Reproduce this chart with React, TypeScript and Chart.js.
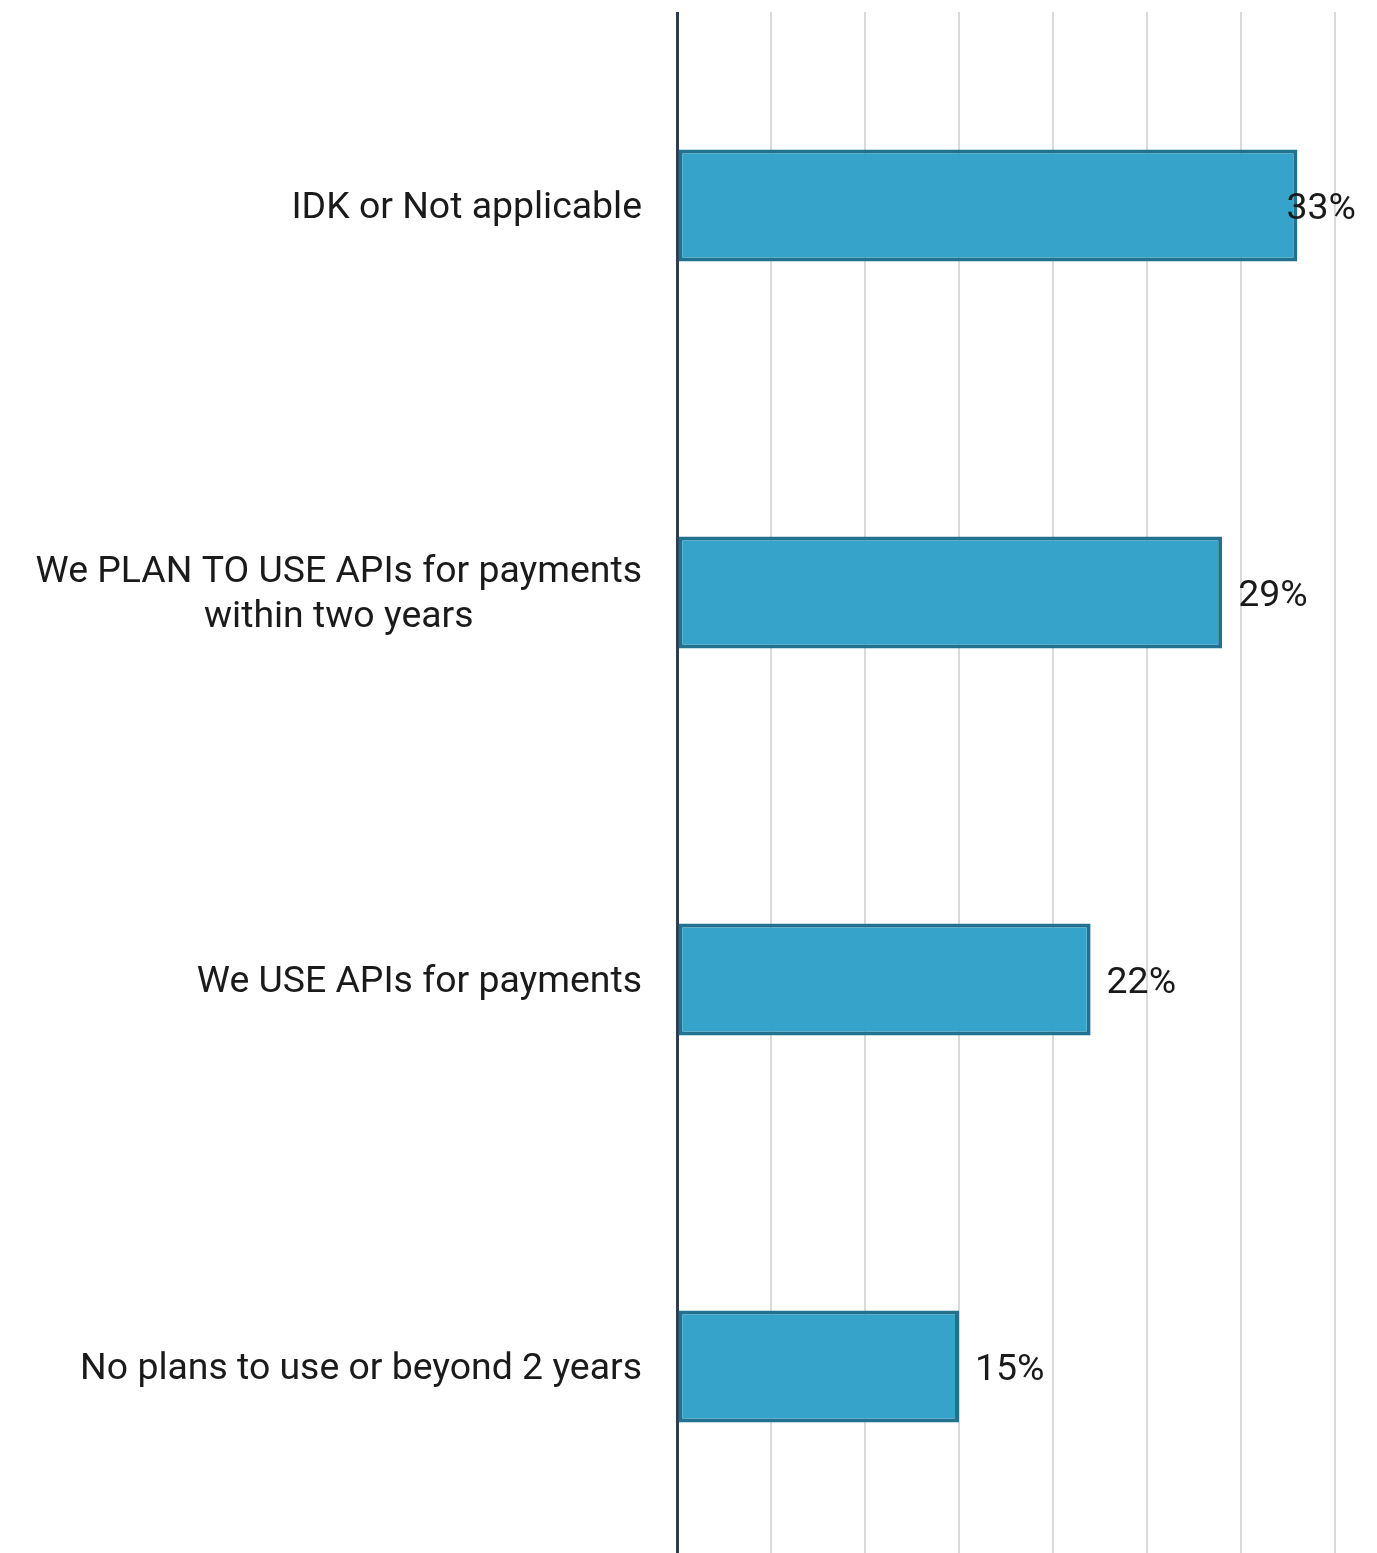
import React, { useEffect, useRef } from "react";
import { Chart, registerables } from "chart.js";

Chart.register(...registerables);

const categories: string[][] = [
  ["IDK or Not applicable"],
  ["We PLAN TO USE APIs for payments", "within two years"],
  ["We USE APIs for payments"],
  ["No plans to use or beyond 2 years"],
];
const values: number[] = [33, 29, 22, 15];
const valueLabels: string[] = ["33%", "29%", "22%", "15%"];
const xMax = 35;
const xStep = 5;

const FONT = "Roboto, 'Noto Sans', sans-serif";
const TEXT = "#1a1a1a";

const labelPlugin = {
  id: "customLabels",
  afterDatasetsDraw(chart: any) {
    const { ctx, chartArea } = chart;
    const yScale = chart.scales.y;
    const meta = chart.getDatasetMeta(0);
    ctx.save();
    ctx.font = `37.4px ${FONT}`;
    ctx.fillStyle = TEXT;
    ctx.textBaseline = "middle";
    // category labels
    ctx.textAlign = "center";
    categories.forEach((lines, i) => {
      const cy = yScale.getPixelForValue(i) + 3;
      const lh = 45;
      const widths = lines.map((l) => ctx.measureText(l).width);
      const widest = Math.max(...widths);
      const rightX = chartArea.left - 35;
      const centerX = rightX - widest / 2;
      lines.forEach((l, j) => {
        const y = cy + (j - (lines.length - 1) / 2) * lh;
        ctx.fillText(l, centerX, y);
      });
    });
    // value labels
    ctx.textAlign = "left";
    meta.data.forEach((bar: any, i: number) => {
      const txt = valueLabels[i];
      const w = ctx.measureText(txt).width;
      let x = bar.x + 16;
      const maxX = chart.width - 13 - w;
      if (x > maxX) x = maxX;
      ctx.fillText(txt, x, bar.y + 4);
    });
    ctx.restore();
  },
};

export default function App() {
  const ref = useRef<HTMLCanvasElement | null>(null);
  useEffect(() => {
    document.body.style.overflow = "hidden";
    const canvas = ref.current!;
    const chart = new Chart(canvas, {
      type: "bar",
      data: {
        labels: categories.map((c) => c.join(" ")),
        datasets: [
          {
            data: values,
            backgroundColor: "#36a3cb",
            borderColor: "#21718f",
            borderWidth: 4,
            barPercentage: 0.29,
            categoryPercentage: 1,
            borderSkipped: false,
          },
        ],
      },
      options: {
        indexAxis: "y",
        animation: false,
        responsive: false,
        maintainAspectRatio: false,
        layout: { padding: { left: 669, right: 34, top: 4, bottom: 4 } },
        plugins: { legend: { display: false }, tooltip: { enabled: false } },
        scales: {
          x: {
            min: 0,
            max: xMax,
            ticks: { display: false, stepSize: xStep },
            border: { display: false },
            grid: {
              drawTicks: false,
              color: (c: any) => (c.tick && c.tick.value === 0 ? "#2d3c52" : "#dadada"),
              lineWidth: (c: any) => (c.tick && c.tick.value === 0 ? 3 : 2),
            },
          },
          y: {
            display: false,
          },
        },
      },
      plugins: [labelPlugin],
    });
    return () => chart.destroy();
  }, []);
  return (
    <div style={{ width: 1361, height: 1556 }}>
      <canvas ref={ref} width={1361} height={1556} style={{ display: "block" }} />
    </div>
  );
}
